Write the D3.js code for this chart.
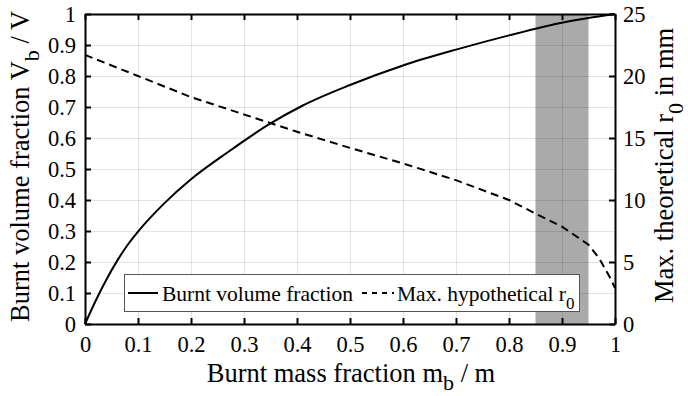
<!DOCTYPE html>
<html lang="en">
<head>
  <meta charset="UTF-8">
  <title>Burnt volume fraction</title>
  <script src="https://d3js.org/d3.v7.min.js"></script>
  <style>
    body { margin: 0; background: #fff; }
    text { font-family: "Liberation Serif", "Times New Roman", serif; fill: #000; }
  </style>
</head>
<body>
<div id="chart"></div>
<script>
  // burnt volume fraction vs burnt mass fraction (left axis)
  const massFrac = [0, 0.01, 0.025, 0.04, 0.06, 0.08, 0.1, 0.15, 0.2, 0.27, 0.35, 0.41, 0.5, 0.6, 0.7, 0.8, 0.9, 1.0]
  const volFrac  = [0, 0.038, 0.092, 0.142, 0.202, 0.254, 0.298, 0.39, 0.467, 0.555, 0.647, 0.704, 0.771, 0.834, 0.885, 0.931, 0.972, 1.0]

  // max hypothetical r0 in mm (right axis)
  const r0Mass = [0, 0.1, 0.2, 0.3, 0.4, 0.5, 0.6, 0.7, 0.8, 0.85, 0.9, 0.95, 0.97, 0.99, 1.0]
  const r0mm   = [21.7, 20.0, 18.3, 16.9, 15.5, 14.2, 12.95, 11.6, 10.0, 8.9, 7.85, 6.4, 5.3, 3.8, 2.9]

  // shaded band
  const band = [0.85, 0.95]

  const xTicks = [0, 0.1, 0.2, 0.3, 0.4, 0.5, 0.6, 0.7, 0.8, 0.9, 1]
  const yTicks = [0, 0.1, 0.2, 0.3, 0.4, 0.5, 0.6, 0.7, 0.8, 0.9, 1]
  const rTicks = [0, 5, 10, 15, 20, 25]

  const W = 688, H = 396
  const L = 85, R = 615, T = 14, B = 324

  const x = d3.scaleLinear().domain([0, 1]).range([L, R])
  const y = d3.scaleLinear().domain([0, 1]).range([B, T])
  const yR = d3.scaleLinear().domain([0, 25]).range([B, T])

  const svg = d3.select("#chart").append("svg")
    .attr("width", W).attr("height", H)

  // shaded region
  svg.append("rect")
    .attr("x", x(band[0])).attr("y", T)
    .attr("width", x(band[1]) - x(band[0])).attr("height", B - T)
    .attr("fill", "#aaaaaa")

  // grid
  const grid = svg.append("g").attr("stroke", "#000").attr("stroke-opacity", 0.11).attr("stroke-width", 1)
  grid.selectAll(".gx").data(xTicks.slice(1, -1)).join("line")
    .attr("x1", d => Math.round(x(d)) + 0.5).attr("x2", d => Math.round(x(d)) + 0.5)
    .attr("y1", T).attr("y2", B)
  grid.selectAll(".gy").data(yTicks.slice(1, -1)).join("line")
    .attr("y1", d => Math.round(y(d)) + 0.5).attr("y2", d => Math.round(y(d)) + 0.5)
    .attr("x1", L).attr("x2", R)

  // curves
  const volLine = d3.line().curve(d3.curveMonotoneX).x(d => x(d[0])).y(d => y(d[1]))
  svg.append("path")
    .datum(massFrac.map((m, i) => [m, volFrac[i]]))
    .attr("d", volLine)
    .attr("fill", "none").attr("stroke", "#000").attr("stroke-width", 2)

  const rLine = d3.line().x(d => x(d[0])).y(d => yR(d[1]))
  svg.append("path")
    .datum(r0Mass.map((m, i) => [m, r0mm[i]]))
    .attr("d", rLine)
    .attr("fill", "none").attr("stroke", "#000").attr("stroke-width", 2)
    .attr("stroke-dasharray", "8,5")

  // axes
  const fmt = d => String(d)
  const styleAxis = g => {
    g.select(".domain").attr("stroke", "#000").attr("stroke-width", 2)
    g.selectAll(".tick line").attr("stroke", "#000").attr("stroke-width", 2)
    g.selectAll(".tick text").attr("font-size", 22.5).style("font-family", '"Liberation Serif", serif')
  }

  svg.append("g").attr("transform", `translate(0,${B})`)
    .call(d3.axisBottom(x).tickValues(xTicks).tickFormat(fmt).tickSize(-6).tickSizeOuter(0).tickPadding(12))
    .call(styleAxis)
  svg.append("g").attr("transform", `translate(0,${T})`)
    .call(d3.axisTop(x).tickValues(xTicks).tickFormat("").tickSize(-6).tickSizeOuter(0))
    .call(styleAxis)
  svg.append("g").attr("transform", `translate(${L},0)`)
    .call(d3.axisLeft(y).tickValues(yTicks).tickFormat(fmt).tickSize(-6).tickSizeOuter(0).tickPadding(9))
    .call(styleAxis)
  svg.append("g").attr("transform", `translate(${R},0)`)
    .call(d3.axisRight(yR).tickValues(rTicks).tickFormat(fmt).tickSize(-6).tickSizeOuter(0).tickPadding(8))
    .call(styleAxis)

  // axis labels
  const xl = svg.append("text").attr("x", 351).attr("y", 382)
    .attr("text-anchor", "middle").attr("font-size", 26.5)
  xl.append("tspan").text("Burnt mass fraction m")
  xl.append("tspan").attr("font-size", 22).attr("dy", 8).text("b")
  xl.append("tspan").attr("dy", -8).text(" / m")

  const yl = svg.append("text").attr("transform", "translate(29,322) rotate(-90)")
    .attr("text-anchor", "start").attr("font-size", 26.5)
  yl.append("tspan").text("Burnt volume fraction V")
  yl.append("tspan").attr("font-size", 22).attr("dy", 10).text("b")
  yl.append("tspan").attr("dy", -10).text(" / V")

  const rl = svg.append("text").attr("transform", "translate(673,303) rotate(-90)")
    .attr("text-anchor", "start").attr("font-size", 26.5)
  rl.append("tspan").text("Max. theoretical r")
  rl.append("tspan").attr("font-size", 22).attr("dy", 10).text("0")
  rl.append("tspan").attr("dy", -10).text(" in mm")

  // legend
  const lg = svg.append("g")
  lg.append("rect").attr("x", 124.5).attr("y", 274.5).attr("width", 455).attr("height", 37)
    .attr("fill", "#fff").attr("stroke", "#555").attr("stroke-width", 1)
  lg.append("line").attr("x1", 128).attr("x2", 158).attr("y1", 293).attr("y2", 293)
    .attr("stroke", "#000").attr("stroke-width", 2)
  lg.append("text").attr("x", 162).attr("y", 301).attr("font-size", 21.5).text("Burnt volume fraction")
  lg.append("line").attr("x1", 362).attr("x2", 394).attr("y1", 293).attr("y2", 293)
    .attr("stroke", "#000").attr("stroke-width", 2).attr("stroke-dasharray", "5,5")
  const lt = lg.append("text").attr("x", 397).attr("y", 301).attr("font-size", 21.5)
  lt.append("tspan").text("Max. hypothetical r")
  lt.append("tspan").attr("font-size", 17).attr("dy", 8).text("0")
</script>
</body>
</html>
